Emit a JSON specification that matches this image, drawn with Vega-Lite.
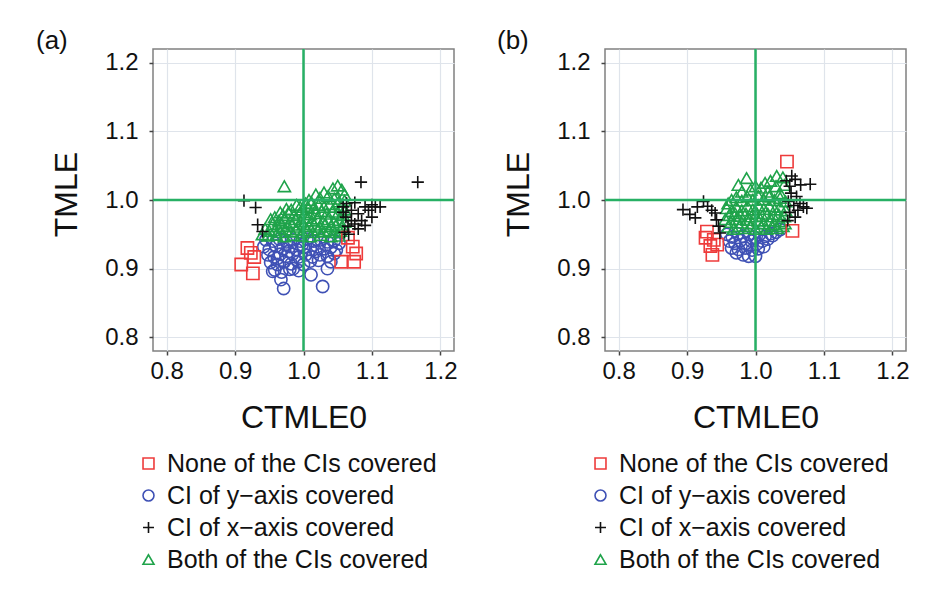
{
  "$schema": "https://vega.github.io/schema/vega-lite/v6.json",
  "padding": {"left": 35, "top": 27, "right": 0, "bottom": 0},
  "background": "white",
  "datasets": {
    "pts": [
      {"p":"a","c":"Y","x":0.945,"y":0.942},{"p":"a","c":"Y","x":0.955,"y":0.94},{"p":"a","c":"Y","x":0.965,"y":0.943},{"p":"a","c":"Y","x":0.975,"y":0.939},{"p":"a","c":"Y","x":0.985,"y":0.942},{"p":"a","c":"Y","x":0.995,"y":0.94},{"p":"a","c":"Y","x":1.005,"y":0.943},{"p":"a","c":"Y","x":1.015,"y":0.94},{"p":"a","c":"Y","x":1.025,"y":0.942},{"p":"a","c":"Y","x":1.035,"y":0.939},{"p":"a","c":"Y","x":1.045,"y":0.941},{"p":"a","c":"Y","x":1.052,"y":0.937},
      {"p":"a","c":"Y","x":0.942,"y":0.932},{"p":"a","c":"Y","x":0.95,"y":0.928},{"p":"a","c":"Y","x":0.96,"y":0.933},{"p":"a","c":"Y","x":0.97,"y":0.929},{"p":"a","c":"Y","x":0.98,"y":0.932},{"p":"a","c":"Y","x":0.99,"y":0.928},{"p":"a","c":"Y","x":1.0,"y":0.931},{"p":"a","c":"Y","x":1.01,"y":0.928},{"p":"a","c":"Y","x":1.02,"y":0.932},{"p":"a","c":"Y","x":1.03,"y":0.929},{"p":"a","c":"Y","x":1.04,"y":0.931},{"p":"a","c":"Y","x":1.048,"y":0.927},
      {"p":"a","c":"Y","x":0.948,"y":0.92},{"p":"a","c":"Y","x":0.957,"y":0.917},{"p":"a","c":"Y","x":0.966,"y":0.921},{"p":"a","c":"Y","x":0.975,"y":0.918},{"p":"a","c":"Y","x":0.984,"y":0.921},{"p":"a","c":"Y","x":0.993,"y":0.917},{"p":"a","c":"Y","x":1.003,"y":0.92},{"p":"a","c":"Y","x":1.013,"y":0.917},{"p":"a","c":"Y","x":1.024,"y":0.92},{"p":"a","c":"Y","x":1.035,"y":0.918},{"p":"a","c":"Y","x":1.045,"y":0.922},
      {"p":"a","c":"Y","x":0.952,"y":0.909},{"p":"a","c":"Y","x":0.962,"y":0.906},{"p":"a","c":"Y","x":0.972,"y":0.91},{"p":"a","c":"Y","x":0.982,"y":0.907},{"p":"a","c":"Y","x":0.992,"y":0.91},{"p":"a","c":"Y","x":1.0,"y":0.906},{"p":"a","c":"Y","x":1.01,"y":0.911},{"p":"a","c":"Y","x":1.022,"y":0.912},
      {"p":"a","c":"Y","x":0.958,"y":0.898},{"p":"a","c":"Y","x":0.968,"y":0.895},{"p":"a","c":"Y","x":0.98,"y":0.899},{"p":"a","c":"Y","x":0.993,"y":0.897},{"p":"a","c":"Y","x":0.955,"y":0.896},{"p":"a","c":"Y","x":0.967,"y":0.884},{"p":"a","c":"Y","x":0.971,"y":0.871},{"p":"a","c":"Y","x":1.028,"y":0.874},{"p":"a","c":"Y","x":1.011,"y":0.891},{"p":"a","c":"Y","x":1.035,"y":0.9},{"p":"a","c":"Y","x":1.04,"y":0.91},{"p":"a","c":"Y","x":0.985,"y":0.9},{"p":"a","c":"Y","x":0.962,"y":0.915},{"p":"a","c":"Y","x":0.978,"y":0.925},{"p":"a","c":"Y","x":0.998,"y":0.935},{"p":"a","c":"Y","x":1.018,"y":0.925},

      {"p":"a","c":"B","x":0.972,"y":1.02},
      {"p":"a","c":"B","x":1.05,"y":1.021},{"p":"a","c":"B","x":1.043,"y":1.017},{"p":"a","c":"B","x":1.056,"y":1.015},{"p":"a","c":"B","x":1.03,"y":1.011},{"p":"a","c":"B","x":1.018,"y":1.008},{"p":"a","c":"B","x":1.036,"y":1.006},{"p":"a","c":"B","x":1.06,"y":1.008},{"p":"a","c":"B","x":1.024,"y":1.003},{"p":"a","c":"B","x":1.008,"y":1.0},{"p":"a","c":"B","x":1.045,"y":1.002},{"p":"a","c":"B","x":1.003,"y":0.995},{"p":"a","c":"B","x":0.995,"y":0.99},{"p":"a","c":"B","x":1.012,"y":0.996},{"p":"a","c":"B","x":1.052,"y":0.998},{"p":"a","c":"B","x":1.06,"y":0.999},
      {"p":"a","c":"B","x":0.966,"y":0.982},{"p":"a","c":"B","x":0.975,"y":0.987},{"p":"a","c":"B","x":0.982,"y":0.986},{"p":"a","c":"B","x":0.99,"y":0.993},{"p":"a","c":"B","x":0.998,"y":0.986},{"p":"a","c":"B","x":1.006,"y":0.99},{"p":"a","c":"B","x":1.015,"y":0.988},{"p":"a","c":"B","x":1.022,"y":0.993},{"p":"a","c":"B","x":1.03,"y":0.99},{"p":"a","c":"B","x":1.038,"y":0.994},{"p":"a","c":"B","x":1.046,"y":0.99},{"p":"a","c":"B","x":1.055,"y":0.991},{"p":"a","c":"B","x":1.06,"y":0.986},
      {"p":"a","c":"B","x":0.97,"y":0.978},{"p":"a","c":"B","x":0.978,"y":0.982},{"p":"a","c":"B","x":0.986,"y":0.978},{"p":"a","c":"B","x":0.994,"y":0.98},{"p":"a","c":"B","x":1.002,"y":0.982},{"p":"a","c":"B","x":1.01,"y":0.979},{"p":"a","c":"B","x":1.018,"y":0.981},{"p":"a","c":"B","x":1.026,"y":0.984},{"p":"a","c":"B","x":1.034,"y":0.98},{"p":"a","c":"B","x":1.042,"y":0.983},{"p":"a","c":"B","x":1.05,"y":0.98},{"p":"a","c":"B","x":1.058,"y":0.978},
      {"p":"a","c":"B","x":0.952,"y":0.972},{"p":"a","c":"B","x":0.958,"y":0.975},{"p":"a","c":"B","x":0.964,"y":0.97},{"p":"a","c":"B","x":0.972,"y":0.973},{"p":"a","c":"B","x":0.98,"y":0.968},{"p":"a","c":"B","x":0.988,"y":0.972},{"p":"a","c":"B","x":0.996,"y":0.969},{"p":"a","c":"B","x":1.004,"y":0.974},{"p":"a","c":"B","x":1.012,"y":0.97},{"p":"a","c":"B","x":1.02,"y":0.973},{"p":"a","c":"B","x":1.028,"y":0.969},{"p":"a","c":"B","x":1.036,"y":0.972},{"p":"a","c":"B","x":1.044,"y":0.968},{"p":"a","c":"B","x":1.052,"y":0.971},{"p":"a","c":"B","x":1.06,"y":0.968},
      {"p":"a","c":"B","x":0.955,"y":0.965},{"p":"a","c":"B","x":0.962,"y":0.962},{"p":"a","c":"B","x":0.968,"y":0.966},{"p":"a","c":"B","x":0.976,"y":0.962},{"p":"a","c":"B","x":0.984,"y":0.964},{"p":"a","c":"B","x":0.992,"y":0.961},{"p":"a","c":"B","x":1.0,"y":0.965},{"p":"a","c":"B","x":1.008,"y":0.962},{"p":"a","c":"B","x":1.016,"y":0.964},{"p":"a","c":"B","x":1.024,"y":0.961},{"p":"a","c":"B","x":1.032,"y":0.965},{"p":"a","c":"B","x":1.04,"y":0.962},{"p":"a","c":"B","x":1.048,"y":0.964},{"p":"a","c":"B","x":1.056,"y":0.96},
      {"p":"a","c":"B","x":0.944,"y":0.958},{"p":"a","c":"B","x":0.95,"y":0.955},{"p":"a","c":"B","x":0.958,"y":0.956},{"p":"a","c":"B","x":0.966,"y":0.953},{"p":"a","c":"B","x":0.974,"y":0.957},{"p":"a","c":"B","x":0.982,"y":0.954},{"p":"a","c":"B","x":0.99,"y":0.957},{"p":"a","c":"B","x":0.998,"y":0.953},{"p":"a","c":"B","x":1.006,"y":0.956},{"p":"a","c":"B","x":1.014,"y":0.953},{"p":"a","c":"B","x":1.022,"y":0.957},{"p":"a","c":"B","x":1.03,"y":0.954},{"p":"a","c":"B","x":1.038,"y":0.956},{"p":"a","c":"B","x":1.046,"y":0.953},{"p":"a","c":"B","x":1.054,"y":0.955},
      {"p":"a","c":"B","x":0.94,"y":0.95},{"p":"a","c":"B","x":0.948,"y":0.948},{"p":"a","c":"B","x":0.96,"y":0.949},{"p":"a","c":"B","x":0.972,"y":0.947},{"p":"a","c":"B","x":0.985,"y":0.949},{"p":"a","c":"B","x":0.997,"y":0.948},{"p":"a","c":"B","x":1.01,"y":0.947},{"p":"a","c":"B","x":1.025,"y":0.949},{"p":"a","c":"B","x":1.04,"y":0.947},{"p":"a","c":"B","x":1.052,"y":0.948},

      {"p":"a","c":"N","x":0.918,"y":0.93},{"p":"a","c":"N","x":0.923,"y":0.923},{"p":"a","c":"N","x":0.928,"y":0.917},{"p":"a","c":"N","x":0.909,"y":0.906},{"p":"a","c":"N","x":0.926,"y":0.893},{"p":"a","c":"N","x":1.065,"y":0.945},{"p":"a","c":"N","x":1.072,"y":0.932},{"p":"a","c":"N","x":1.077,"y":0.922},{"p":"a","c":"N","x":1.074,"y":0.91},{"p":"a","c":"N","x":1.055,"y":0.91},

      {"p":"a","c":"X","x":0.913,"y":0.999},{"p":"a","c":"X","x":0.93,"y":0.989},{"p":"a","c":"X","x":0.933,"y":0.964},{"p":"a","c":"X","x":0.94,"y":0.954},{"p":"a","c":"X","x":1.084,"y":1.026},{"p":"a","c":"X","x":1.167,"y":1.026},{"p":"a","c":"X","x":1.058,"y":0.99},{"p":"a","c":"X","x":1.062,"y":0.975},{"p":"a","c":"X","x":1.065,"y":0.962},{"p":"a","c":"X","x":1.06,"y":0.953},{"p":"a","c":"X","x":1.07,"y":0.985},{"p":"a","c":"X","x":1.075,"y":0.996},{"p":"a","c":"X","x":1.08,"y":0.98},{"p":"a","c":"X","x":1.085,"y":0.97},{"p":"a","c":"X","x":1.09,"y":0.99},{"p":"a","c":"X","x":1.095,"y":0.985},{"p":"a","c":"X","x":1.1,"y":0.993},{"p":"a","c":"X","x":1.105,"y":0.99},{"p":"a","c":"X","x":1.112,"y":0.99},{"p":"a","c":"X","x":1.1,"y":0.975},{"p":"a","c":"X","x":1.09,"y":0.963},{"p":"a","c":"X","x":1.08,"y":0.958},{"p":"a","c":"X","x":1.07,"y":0.97},{"p":"a","c":"X","x":1.066,"y":0.95},{"p":"a","c":"X","x":1.075,"y":0.965},{"p":"a","c":"X","x":1.058,"y":0.982},{"p":"a","c":"X","x":1.063,"y":0.995},

      {"p":"b","c":"Y","x":0.958,"y":0.95},{"p":"b","c":"Y","x":0.966,"y":0.946},{"p":"b","c":"Y","x":0.974,"y":0.951},{"p":"b","c":"Y","x":0.982,"y":0.947},{"p":"b","c":"Y","x":0.99,"y":0.95},{"p":"b","c":"Y","x":0.998,"y":0.946},{"p":"b","c":"Y","x":1.006,"y":0.95},{"p":"b","c":"Y","x":1.014,"y":0.947},{"p":"b","c":"Y","x":1.022,"y":0.951},{"p":"b","c":"Y","x":1.03,"y":0.953},{"p":"b","c":"Y","x":1.036,"y":0.957},{"p":"b","c":"Y","x":0.962,"y":0.94},{"p":"b","c":"Y","x":0.97,"y":0.937},{"p":"b","c":"Y","x":0.978,"y":0.941},{"p":"b","c":"Y","x":0.986,"y":0.937},{"p":"b","c":"Y","x":0.994,"y":0.94},{"p":"b","c":"Y","x":1.002,"y":0.936},{"p":"b","c":"Y","x":1.01,"y":0.94},{"p":"b","c":"Y","x":1.018,"y":0.943},{"p":"b","c":"Y","x":0.965,"y":0.93},{"p":"b","c":"Y","x":0.975,"y":0.928},{"p":"b","c":"Y","x":0.985,"y":0.93},{"p":"b","c":"Y","x":0.995,"y":0.927},{"p":"b","c":"Y","x":1.004,"y":0.929},{"p":"b","c":"Y","x":0.982,"y":0.92},{"p":"b","c":"Y","x":0.99,"y":0.918},{"p":"b","c":"Y","x":1.0,"y":0.918},{"p":"b","c":"Y","x":0.972,"y":0.923},{"p":"b","c":"Y","x":1.012,"y":0.932},{"p":"b","c":"Y","x":1.025,"y":0.948},

      {"p":"b","c":"B","x":0.987,"y":1.032},{"p":"b","c":"B","x":1.014,"y":1.025},{"p":"b","c":"B","x":1.031,"y":1.035},{"p":"b","c":"B","x":1.04,"y":1.033},{"p":"b","c":"B","x":0.975,"y":1.022},{"p":"b","c":"B","x":1.0,"y":1.02},{"p":"b","c":"B","x":1.022,"y":1.028},{"p":"b","c":"B","x":0.993,"y":1.015},{"p":"b","c":"B","x":1.008,"y":1.018},{"p":"b","c":"B","x":1.03,"y":1.02},{"p":"b","c":"B","x":1.042,"y":1.022},{"p":"b","c":"B","x":0.98,"y":1.012},{"p":"b","c":"B","x":1.018,"y":1.012},{"p":"b","c":"B","x":1.036,"y":1.01},
      {"p":"b","c":"B","x":0.965,"y":1.0},{"p":"b","c":"B","x":0.972,"y":1.004},{"p":"b","c":"B","x":0.98,"y":0.999},{"p":"b","c":"B","x":0.988,"y":1.005},{"p":"b","c":"B","x":0.996,"y":1.0},{"p":"b","c":"B","x":1.004,"y":1.006},{"p":"b","c":"B","x":1.012,"y":1.001},{"p":"b","c":"B","x":1.02,"y":1.005},{"p":"b","c":"B","x":1.028,"y":1.0},{"p":"b","c":"B","x":1.036,"y":1.003},{"p":"b","c":"B","x":1.044,"y":0.998},{"p":"b","c":"B","x":0.96,"y":0.995},
      {"p":"b","c":"B","x":0.958,"y":0.988},{"p":"b","c":"B","x":0.965,"y":0.984},{"p":"b","c":"B","x":0.972,"y":0.99},{"p":"b","c":"B","x":0.98,"y":0.985},{"p":"b","c":"B","x":0.988,"y":0.991},{"p":"b","c":"B","x":0.996,"y":0.986},{"p":"b","c":"B","x":1.004,"y":0.992},{"p":"b","c":"B","x":1.012,"y":0.987},{"p":"b","c":"B","x":1.02,"y":0.991},{"p":"b","c":"B","x":1.028,"y":0.986},{"p":"b","c":"B","x":1.036,"y":0.99},{"p":"b","c":"B","x":1.044,"y":0.985},{"p":"b","c":"B","x":0.962,"y":0.978},{"p":"b","c":"B","x":0.97,"y":0.981},{"p":"b","c":"B","x":0.978,"y":0.977},{"p":"b","c":"B","x":0.986,"y":0.98},{"p":"b","c":"B","x":0.994,"y":0.976},{"p":"b","c":"B","x":1.002,"y":0.981},{"p":"b","c":"B","x":1.01,"y":0.977},{"p":"b","c":"B","x":1.018,"y":0.98},{"p":"b","c":"B","x":1.026,"y":0.976},{"p":"b","c":"B","x":1.034,"y":0.979},{"p":"b","c":"B","x":1.042,"y":0.976},
      {"p":"b","c":"B","x":0.956,"y":0.972},{"p":"b","c":"B","x":0.964,"y":0.968},{"p":"b","c":"B","x":0.972,"y":0.972},{"p":"b","c":"B","x":0.98,"y":0.967},{"p":"b","c":"B","x":0.988,"y":0.971},{"p":"b","c":"B","x":0.996,"y":0.966},{"p":"b","c":"B","x":1.004,"y":0.97},{"p":"b","c":"B","x":1.012,"y":0.966},{"p":"b","c":"B","x":1.02,"y":0.97},{"p":"b","c":"B","x":1.028,"y":0.965},{"p":"b","c":"B","x":1.036,"y":0.969},{"p":"b","c":"B","x":1.043,"y":0.966},{"p":"b","c":"B","x":0.96,"y":0.961},{"p":"b","c":"B","x":0.968,"y":0.958},{"p":"b","c":"B","x":0.976,"y":0.962},{"p":"b","c":"B","x":0.984,"y":0.959},{"p":"b","c":"B","x":0.992,"y":0.962},{"p":"b","c":"B","x":1.0,"y":0.958},{"p":"b","c":"B","x":1.008,"y":0.961},{"p":"b","c":"B","x":1.016,"y":0.958},{"p":"b","c":"B","x":1.024,"y":0.962},{"p":"b","c":"B","x":1.032,"y":0.959},{"p":"b","c":"B","x":1.04,"y":0.962},

      {"p":"b","c":"N","x":1.046,"y":1.056},{"p":"b","c":"N","x":1.054,"y":0.955},{"p":"b","c":"N","x":0.929,"y":0.954},{"p":"b","c":"N","x":0.927,"y":0.945},{"p":"b","c":"N","x":0.939,"y":0.942},{"p":"b","c":"N","x":0.944,"y":0.935},{"p":"b","c":"N","x":0.937,"y":0.92},{"p":"b","c":"N","x":0.934,"y":0.933},

      {"p":"b","c":"X","x":0.894,"y":0.986},{"p":"b","c":"X","x":0.904,"y":0.979},{"p":"b","c":"X","x":0.912,"y":0.974},{"p":"b","c":"X","x":0.915,"y":0.99},{"p":"b","c":"X","x":0.924,"y":0.998},{"p":"b","c":"X","x":0.93,"y":0.991},{"p":"b","c":"X","x":0.941,"y":0.981},{"p":"b","c":"X","x":0.943,"y":0.971},{"p":"b","c":"X","x":0.946,"y":0.962},{"p":"b","c":"X","x":0.936,"y":0.985},{"p":"b","c":"X","x":0.948,"y":0.952},
      {"p":"b","c":"X","x":1.045,"y":1.028},{"p":"b","c":"X","x":1.05,"y":1.02},{"p":"b","c":"X","x":1.058,"y":1.03},{"p":"b","c":"X","x":1.066,"y":1.022},{"p":"b","c":"X","x":1.08,"y":1.023},{"p":"b","c":"X","x":1.052,"y":1.01},{"p":"b","c":"X","x":1.06,"y":1.005},{"p":"b","c":"X","x":1.048,"y":0.998},{"p":"b","c":"X","x":1.056,"y":0.992},{"p":"b","c":"X","x":1.065,"y":0.995},{"p":"b","c":"X","x":1.075,"y":0.988},{"p":"b","c":"X","x":1.062,"y":0.985},{"p":"b","c":"X","x":1.05,"y":0.982},{"p":"b","c":"X","x":1.058,"y":0.975},{"p":"b","c":"X","x":1.047,"y":0.97},{"p":"b","c":"X","x":1.07,"y":0.99},{"p":"b","c":"X","x":1.053,"y":1.035}
    ]
  },
  "hconcat": [
    {
      "width": 301, "height": 302,
      "title": {"text": "(a)", "anchor": "start", "frame": "group", "dx": -117, "dy": 27, "offset": 0, "baseline": "alphabetic", "fontSize": 26, "fontWeight": "normal", "color": "#111"},
      "layer": [
        {
          "data": {"name": "pts"},
          "transform": [{"filter": "datum.p == 'a'"}],
          "mark": {"type": "point", "filled": false, "size": 150, "strokeWidth": 1.6, "opacity": 1},
          "encoding": {
            "x": {"field": "x", "type": "quantitative", "title": "CTMLE0", "scale": {"domain": [0.78, 1.22], "nice": false, "zero": false},
              "axis": {"values": [0.8, 0.85, 0.9, 0.95, 1, 1.05, 1.1, 1.15, 1.2], "labelExpr": "abs(datum.value*10-round(datum.value*10))<0.001 ? format(datum.value,'.1f') : ''", "tickOpacity": {"condition": {"test": "abs(datum.value*10-round(datum.value*10))<0.001", "value": 1}, "value": 0}, "titleX": 150.5, "titleY": 76, "titleBaseline": "alphabetic", "labelPadding": 4, "labelFlush": false, "labelOverlap": false}},
            "y": {"field": "y", "type": "quantitative", "title": "TMLE", "scale": {"domain": [0.78, 1.22], "nice": false, "zero": false},
              "axis": {"values": [0.8, 0.85, 0.9, 0.95, 1, 1.05, 1.1, 1.15, 1.2], "labelExpr": "abs(datum.value*10-round(datum.value*10))<0.001 ? format(datum.value,'.1f') : ''", "tickOpacity": {"condition": {"test": "abs(datum.value*10-round(datum.value*10))<0.001", "value": 1}, "value": 0}, "titleX": -77, "titleY": 145, "titleAngle": -90, "titleAlign": "center", "titleBaseline": "alphabetic", "labelPadding": 11, "labelFlush": false, "labelOverlap": false}},
            "color": {"field": "c", "type": "nominal", "scale": {"domain": ["N", "Y", "X", "B"], "range": ["#EE3B3B", "#3F51B5", "#111111", "#1FA34A"]},
              "legend": {"title": null, "labelExpr": "{'N':'None of the CIs covered','Y':'CI of y−axis covered','X':'CI of x−axis covered','B':'Both of the CIs covered'}[datum.value]"}},
            "shape": {"field": "c", "type": "nominal", "scale": {"domain": ["N", "Y", "X", "B"], "range": ["square", "circle", "M-1,0L1,0M0,-1L0,1", "triangle-up"]},
              "legend": {"title": null, "labelExpr": "{'N':'None of the CIs covered','Y':'CI of y−axis covered','X':'CI of x−axis covered','B':'Both of the CIs covered'}[datum.value]"}}
          }
        },
        {
          "data": {"values": [{"v": 1}]},
          "mark": {"type": "rule", "color": "#27B064", "strokeWidth": 2.5},
          "encoding": {"x": {"field": "v", "type": "quantitative", "title": "CTMLE0"}}
        },
        {
          "data": {"values": [{"v": 1}]},
          "mark": {"type": "rule", "color": "#27B064", "strokeWidth": 2.5},
          "encoding": {"y": {"field": "v", "type": "quantitative", "title": "TMLE"}}
        }
      ]
    },
    {
      "width": 301, "height": 302,
      "title": {"text": "(b)", "anchor": "start", "frame": "group", "dx": -108, "dy": 27, "offset": 0, "baseline": "alphabetic", "fontSize": 26, "fontWeight": "normal", "color": "#111"},
      "layer": [
        {
          "data": {"name": "pts"},
          "transform": [{"filter": "datum.p == 'b'"}],
          "mark": {"type": "point", "filled": false, "size": 150, "strokeWidth": 1.6, "opacity": 1},
          "encoding": {
            "x": {"field": "x", "type": "quantitative", "title": "CTMLE0", "scale": {"domain": [0.78, 1.22], "nice": false, "zero": false},
              "axis": {"values": [0.8, 0.85, 0.9, 0.95, 1, 1.05, 1.1, 1.15, 1.2], "labelExpr": "abs(datum.value*10-round(datum.value*10))<0.001 ? format(datum.value,'.1f') : ''", "tickOpacity": {"condition": {"test": "abs(datum.value*10-round(datum.value*10))<0.001", "value": 1}, "value": 0}, "titleX": 150.5, "titleY": 76, "titleBaseline": "alphabetic", "labelPadding": 4, "labelFlush": false, "labelOverlap": false}},
            "y": {"field": "y", "type": "quantitative", "title": "TMLE", "scale": {"domain": [0.78, 1.22], "nice": false, "zero": false},
              "axis": {"values": [0.8, 0.85, 0.9, 0.95, 1, 1.05, 1.1, 1.15, 1.2], "labelExpr": "abs(datum.value*10-round(datum.value*10))<0.001 ? format(datum.value,'.1f') : ''", "tickOpacity": {"condition": {"test": "abs(datum.value*10-round(datum.value*10))<0.001", "value": 1}, "value": 0}, "titleX": -77, "titleY": 145, "titleAngle": -90, "titleAlign": "center", "titleBaseline": "alphabetic", "labelPadding": 11, "labelFlush": false, "labelOverlap": false}},
            "color": {"field": "c", "type": "nominal", "scale": {"domain": ["N", "Y", "X", "B"], "range": ["#EE3B3B", "#3F51B5", "#111111", "#1FA34A"]},
              "legend": {"title": null, "labelExpr": "{'N':'None of the CIs covered','Y':'CI of y−axis covered','X':'CI of x−axis covered','B':'Both of the CIs covered'}[datum.value]"}},
            "shape": {"field": "c", "type": "nominal", "scale": {"domain": ["N", "Y", "X", "B"], "range": ["square", "circle", "M-1,0L1,0M0,-1L0,1", "triangle-up"]},
              "legend": {"title": null, "labelExpr": "{'N':'None of the CIs covered','Y':'CI of y−axis covered','X':'CI of x−axis covered','B':'Both of the CIs covered'}[datum.value]"}}
          }
        },
        {
          "data": {"values": [{"v": 1}]},
          "mark": {"type": "rule", "color": "#27B064", "strokeWidth": 2.5},
          "encoding": {"x": {"field": "v", "type": "quantitative", "title": "CTMLE0"}}
        },
        {
          "data": {"values": [{"v": 1}]},
          "mark": {"type": "rule", "color": "#27B064", "strokeWidth": 2.5},
          "encoding": {"y": {"field": "v", "type": "quantitative", "title": "TMLE"}}
        }
      ]
    }
  ],
  "spacing": 151,
  "bounds": "flush",
  "resolve": {"legend": {"color": "independent", "shape": "independent"}},
  "config": {
    "font": "Liberation Sans",
    "view": {"stroke": "#808080", "strokeWidth": 1.5},
    "axis": {"domain": false, "grid": true, "gridColor": "#DFE4EB", "gridWidth": 1.2, "labelFontSize": 24, "labelColor": "#111", "titleFontSize": 32, "titleFontWeight": "normal", "titleColor": "#111", "tickColor": "#444", "tickSize": 4, "tickWidth": 1.5},
    "legend": {"orient": "none", "legendX": -17, "legendY": 402, "padding": 0, "labelFontSize": 25, "labelColor": "#111", "symbolSize": 120, "symbolStrokeWidth": 1.6, "labelOffset": 6, "rowPadding": 6, "labelLimit": 400, "direction": "vertical"}
  }
}
